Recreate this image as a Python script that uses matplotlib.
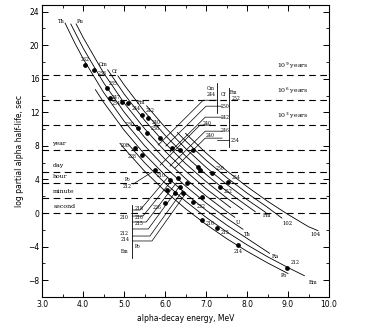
import matplotlib
matplotlib.use("Agg")
import matplotlib.pyplot as plt

# ---- data ----
# descending curves, one per element (alpha energy MeV, log half-life sec)
curve_names = ["Po", "Em", "Ra", "Th", "U", "Pu", "Cm", "Cf", "Fm", "102", "104"]
curve_E = [
    [4.9, 5.0, 5.5, 6.0, 6.5, 7.0, 7.5, 8.0, 8.5, 9.0],
    [5.1, 5.5, 6.0, 6.5, 7.0, 7.5, 8.0, 8.5, 9.0, 9.4],
    [4.3, 4.5, 5.0, 5.5, 6.0, 6.5, 7.0, 7.5, 8.0, 8.55],
    [3.56, 3.8, 4.0, 4.5, 5.0, 5.5, 6.0, 6.5, 7.0, 7.5, 7.9],
    [3.70, 4.0, 4.5, 5.0, 5.5, 6.0, 6.5, 7.0, 7.5, 7.7],
    [3.83, 4.0, 4.5, 5.0, 5.5, 6.0, 6.5, 7.0, 7.6],
    [4.6, 5.0, 5.5, 6.0, 6.5, 7.0, 7.5, 7.9],
    [4.85, 5.0, 5.5, 6.0, 6.5, 7.0, 7.5, 8.2],
    [5.55, 6.0, 6.5, 7.0, 7.5, 8.0, 8.46],
    [6.3, 6.5, 7.0, 7.5, 8.0, 8.5, 8.85],
    [6.5, 7.0, 7.5, 8.0, 8.5, 9.0, 9.5, 9.73],
]
curve_L = [
    [8.31, 7.72, 4.99, 2.61, 0.51, -1.36, -3.04, -4.56, -5.94, -7.21],
    [8.21, 6.00, 3.56, 1.41, -0.51, -2.23, -3.79, -5.21, -6.50, -7.47],
    [14.71, 13.21, 9.88, 7.01, 4.51, 2.31, 0.34, -1.42, -3.02, -4.8],
    [22.64, 20.24, 18.41, 14.38, 10.96, 8.03, 5.47, 3.21, 1.20, -0.61, -1.93],
    [22.53, 19.66, 15.53, 12.04, 9.03, 6.41, 4.10, 2.04, 0.19, -0.50],
    [22.55, 20.93, 16.70, 13.13, 10.06, 7.37, 5.01, 2.90, 0.65],
    [17.08, 14.20, 11.06, 8.32, 5.90, 3.75, 1.81, 0.40],
    [16.35, 15.29, 12.08, 9.27, 6.80, 4.60, 2.62, 0.16],
    [12.78, 10.22, 7.70, 5.45, 3.43, 1.60, 0.06],
    [9.60, 8.60, 6.30, 4.24, 2.38, 0.68, -0.60],
    [9.50, 7.16, 5.05, 3.15, 1.41, -0.17, -1.63, -2.10],
]

# labels at the start and the end of the curves
start_lab = ["Th", "Pu", "Cm", "Cf", "Fm"]
start_E = [3.47, 3.93, 4.50, 4.76, 5.42]
start_L = [22.8, 22.8, 17.7, 16.9, 13.2]
end_lab = ["U", "Th", "Ra", "Po", "Em", "Fm", "102", "104"]
end_E = [7.78, 8.02, 8.68, 8.90, 9.62, 8.50, 8.98, 9.68]
end_L = [-1.1, -2.5, -5.2, -7.5, -8.3, -0.3, -1.2, -2.6]

# isotopes (dots) with their mass numbers
pt_E = [4.05, 4.27, 4.59, 4.66, 4.95, 5.10, 5.44, 5.59, 5.34, 5.56, 5.88, 6.17,
        6.37, 6.68, 5.27, 5.44, 5.76, 6.12, 6.37, 6.24, 6.44, 6.32, 6.54, 6.80,
        6.90, 7.15, 7.34, 7.54, 6.68, 6.90, 7.27, 7.78, 8.98, 6.85, 6.05, 6.00]
pt_L = [17.6, 17.1, 14.9, 13.7, 13.2, 13.1, 11.7, 11.3, 10.1, 9.6, 9.0, 7.7,
        7.5, 7.5, 7.7, 6.9, 5.1, 3.9, 3.1, 2.4, 2.4, 4.2, 3.6, 5.5,
        1.9, 4.8, 3.1, 3.7, 1.3, -0.8, -1.8, -3.8, -6.5, 5.1, 2.8, 1.2]
pt_lab = ["232", "238", "235", "234", "247", "244", "242", "240", "230", "238",
          "", "", "", "", "208", "228", "210", "", "", "", "", "", "", "",
          "", "250", "252", "254", "222", "216", "215", "214", "212", "", "", "226"]

# reference half-life levels
lvl_L = [16.5, 13.5, 10.5, 7.5, 4.94, 3.56, 1.78, 0.0]
lvl_lab = ["10$^9$ years", "10$^6$ years", "10$^3$ years", "year", "day", "hour", "minute", "second"]
lvl_E = [8.72, 8.72, 8.72, 3.25, 3.25, 3.27, 3.27, 3.27]

# leader lines to the mass-number keys
lead_up_E = [[5.83, 6.93, 7.27], [6.02, 7.00, 7.39], [6.12, 6.98, 7.39],
             [5.88, 6.85, 7.10], [6.12, 6.98, 7.39], [6.24, 6.98, 7.39]]
lead_up_L = [[8.10, 13.45, 13.45], [7.98, 12.74, 12.74], [7.26, 11.43, 11.43],
             [5.71, 10.48, 10.48], [5.60, 9.76, 9.76], [5.36, 8.93, 8.93]]
key_up_lab = ["Cm", "244", "Cf", "Fm", "252", "250", "242", "240", "246", "240", "254"]
key_up_E = [7.12, 7.12, 7.42, 7.68, 7.74, 7.47, 7.47, 7.02, 7.47, 7.10, 7.70]
key_up_L = [14.8, 14.1, 14.1, 14.4, 13.6, 12.7, 11.4, 10.7, 9.8, 9.3, 8.7]

lead_lo_E = [[5.20, 5.39, 6.07], [5.20, 5.46, 6.17], [5.20, 5.54, 6.27],
             [5.20, 5.59, 6.34], [5.20, 5.63, 6.44], [5.20, 5.68, 6.51],
             [5.22, 5.68]]
lead_lo_L = [[0.36, 0.36, 4.29], [-0.36, -0.36, 3.93], [-1.07, -1.07, 3.57],
             [-1.90, -1.90, 3.10], [-2.74, -2.74, 2.74], [-3.33, -3.33, 2.38],
             [3.45, 4.88]]
key_lo_lab = ["218", "210", "216", "215", "212", "214", "Po", "Em", "Po", "212"]
key_lo_E = [5.36, 5.00, 5.36, 5.36, 5.00, 5.03, 5.34, 5.02, 5.08, 5.08]
key_lo_L = [0.5, -0.5, -0.5, -1.3, -2.4, -3.1, -4.0, -4.6, 4.0, 3.2]

# where each mass number sits relative to its dot
lab_dx = [0.0, 0.2, 0.15, 0.15, -0.15, 0.2, 0.2, 0.2, -0.2, 0.2,
          0, 0, 0, 0, -0.25, -0.25, 0.15, 0, 0, 0, 0, 0, 0, 0,
          0, 0.2, 0.2, 0.2, 0.2, 0.2, 0.2, 0.0, 0.2, 0, 0, -0.2]
lab_dy = [0.7, -0.5, 0.5, -0.6, 0.6, -0.6, 0.5, -0.5, 0.5, 0.5,
          0, 0, 0, 0, 0.3, -0.2, -0.6, 0, 0, 0, 0, 0, 0, 0,
          0, 0.5, -0.5, 0.5, -0.5, -0.5, -0.5, -0.8, 0.6, 0, 0, -0.5]

# ---- figure ----
fig = plt.figure(figsize=(3.83, 3.34), dpi=100)
ax = fig.add_axes([0.110, 0.111, 0.749, 0.874])

for L, lab, E in zip(lvl_L, lvl_lab, lvl_E):
    ax.plot([3.0, 10.0], [L, L], color="black", lw=0.8, ls=(0, (6, 4)))
    ax.text(E, L + 0.45, lab, fontsize=4.5, family="DejaVu Serif", va="bottom")

for E, L in zip(curve_E, curve_L):
    ax.plot(E, L, color="black", lw=0.6)

for E, L in zip(lead_up_E + lead_lo_E, lead_up_L + lead_lo_L):
    ax.plot(E, L, color="black", lw=0.5)

# bracket verticals
ax.plot([7.27, 7.27], [15.5, 11.9], color="black", lw=0.6)
ax.plot([7.56, 7.56], [14.9, 7.9], color="black", lw=0.6)
ax.plot([7.27, 7.56], [8.7, 8.7], color="black", lw=0.5)
ax.plot([5.20, 5.20], [0.9, -5.4], color="black", lw=0.6)

ax.plot(pt_E, pt_L, "o", color="black", ms=2.4)
for E, L, lab, dx, dy in zip(pt_E, pt_L, pt_lab, lab_dx, lab_dy):
    if lab:
        ax.text(E + dx, L + dy, lab, fontsize=3.3, family="DejaVu Serif",
                ha="center", va="center")

for lab, E, L in zip(start_lab + end_lab, start_E + end_E, start_L + end_L):
    ax.text(E, L, lab, fontsize=3.8, family="DejaVu Serif", ha="center", va="center")
for lab, E, L in zip(key_up_lab + key_lo_lab, key_up_E + key_lo_E, key_up_L + key_lo_L):
    ax.text(E, L, lab, fontsize=3.3, family="DejaVu Serif", ha="center", va="center")

ax.set_xlim(3.0, 10.0)
ax.set_ylim(-10.0, 24.8)
ax.set_xticks([3, 4, 5, 6, 7, 8, 9, 10])
ax.set_xticklabels(["3.0", "4.0", "5.0", "6.0", "7.0", "8.0", "9.0", "10.0"])
ax.set_xticks([3.5, 4.5, 5.5, 6.5, 7.5, 8.5, 9.5], minor=True)
ax.set_yticks([-8, -4, 0, 4, 8, 12, 16, 20, 24])
ax.set_yticks([-6, -2, 2, 6, 10, 14, 18, 22], minor=True)
ax.tick_params(which="both", direction="in", top=True, right=True, labelsize=5.5, pad=2)
ax.tick_params(which="major", length=4, width=0.7)
ax.tick_params(which="minor", length=2.5, width=0.6)
for s in ax.spines.values():
    s.set_linewidth(0.8)

ax.set_xlabel("alpha-decay energy, MeV", fontsize=5.5, labelpad=4)
ax.set_ylabel("log partial alpha half-life, sec", fontsize=5.5, labelpad=3)

fig.savefig("out.png", dpi=100)
